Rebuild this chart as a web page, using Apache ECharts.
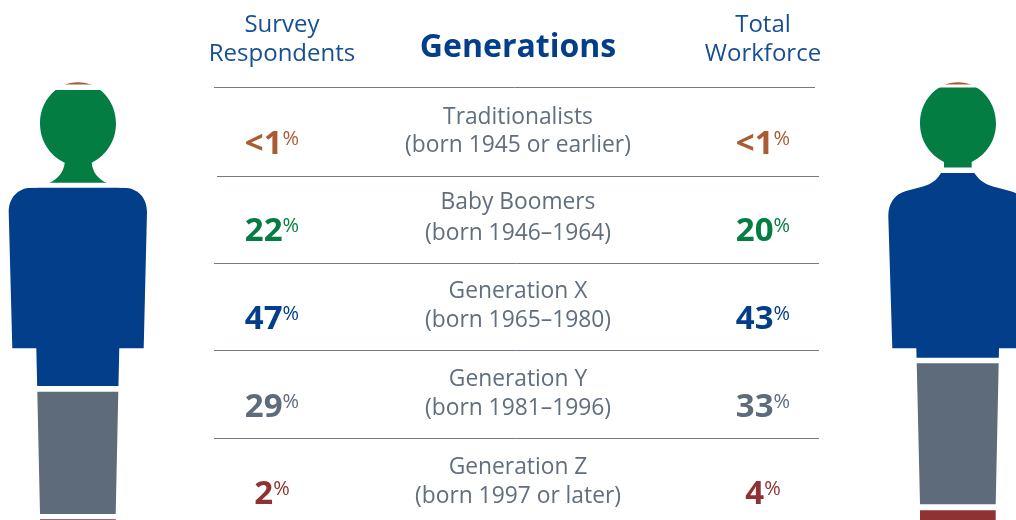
<!DOCTYPE html>
<html>
<head>
<meta charset="utf-8">
<style>
  html, body { margin: 0; padding: 0; background: #fff; }
  #chart { width: 1016px; height: 520px; }
</style>
<script src="https://cdn.jsdelivr.net/npm/echarts@6/dist/echarts.min.js"></script>
</head>
<body>
<div id="chart"></div>
<script>
// 表格内容
const generations = ['Traditionalists', 'Baby Boomers', 'Generation X', 'Generation Y', 'Generation Z'];
const birthYears = ['(born 1945 or earlier)', '(born 1946–1964)', '(born 1965–1980)', '(born 1981–1996)', '(born 1997 or later)'];
const surveyLabels = ['<1', '22', '47', '29', '2'];
const workforceLabels = ['<1', '20', '43', '33', '4'];

// 人形色带的高度（从图上量出）
const surveyBands = [0.7, 22, 47, 29, 2];
const workforceBands = [0.7, 19, 43.8, 33.4, 4];

const bandColors = ['#a95c34', '#047d43', '#023e8a', '#5e6b7a', '#8e3234'];

// 色带之间的白缝（像素）
const surveyGaps = [0, 5.4, 5, 5.6, 5.2];
const workforceGaps = [0, 2.9, 5.3, 5.5, 6.1];

// 人形轮廓，用作裁剪
const surveyShape = 'M40,123.3 C40,100.6 57,82.3 78,82.3 C99,82.3 116,100.6 116,123.3 C116,141 106,156 91.7,162.7 ' +
  'C92.5,172 98,179 107,183 C112,186 118,187.8 124,187.8 C138,188 147,198 147,212 L143.7,348.3 L119.3,348.3 ' +
  'L118.3,392 L115.7,514 L115.7,530 L40,530 L40,514 L37.3,392 L36.3,348.3 L12.3,348.3 L8.7,212 ' +
  'C8.7,198 18,188 31,187.8 C38,187.8 44,186 49,183 C58,179 63.7,172 64.7,162.7 C50,156 40,141 40,123.3 Z';
const workforceShape = 'M920,123.3 C920,100.6 937,82.3 958,82.3 C979,82.3 996,100.6 996,123.3 C996,141 986,155 971.7,162 ' +
  'L971.7,173 L974.3,173 C980,181 985,184 993,186.5 L1010,191 C1020,193 1027,203 1027,216 L1023,348.3 L999,348.3 ' +
  'L998.7,363 L995.7,504 L995.7,530 L920,530 L920,504 L916.7,363 L916.3,348.3 L892.3,348.3 L888.3,216 ' +
  'C888.3,203 895,194 906,191 L923,186.5 C931,184 936,181 941,173 L944,173 L944,162 C930,155 920,141 920,123.3 Z';

const fontFamily = '"Open Sans", sans-serif';
// 纵轴 0..103.9 铺满到画布底部，约 4.22 像素/点
const axisMax = 103.9;

const ruleLines = [[214, 815, 87.5], [217, 819, 176.5], [214, 819, 263.5], [214, 819, 350.5], [214, 819, 438.5]];
const rowLine1 = [118, 203, 292, 380, 468];
const rowLine2 = [146, 234, 321, 409, 497];
const rowValueY = [145, 232, 320, 408, 495];

// 把色带高度累加成 [类目, 起点, 终点, 偏移]
function buildBands(values, gaps) {
    let sum = 0;
    let offset = 0;
    return values.map((v, i) => {
        offset += gaps[i];
        const row = ['person', sum, sum + v, offset];
        sum += v;
        return row;
    });
}

function bandSeries(values, gaps, shape, gridIndex) {
    return {
        type: 'custom',
        xAxisIndex: gridIndex,
        yAxisIndex: gridIndex,
        silent: true,
        data: buildBands(values, gaps),
        encode: { x: 0, y: [1, 2] },
        renderItem: function (params, api) {
            const sys = params.coordSys;
            const top = api.coord(['person', api.value(1)])[1] + api.value(3);
            const bottom = api.coord(['person', api.value(2)])[1] + api.value(3);
            return {
                type: 'rect',
                shape: { x: sys.x, y: top, width: sys.width, height: bottom - top },
                style: { fill: bandColors[params.dataIndex] },
                clipPath: { type: 'path', shape: { pathData: shape } }
            };
        }
    };
}

function textItem(text, x, y, size, color, weight) {
    return {
        type: 'text',
        x: x,
        y: y,
        silent: true,
        style: {
            text: text,
            fill: color,
            font: (weight || 'normal') + ' ' + size + 'px ' + fontFamily,
            align: 'center',
            verticalAlign: 'middle'
        }
    };
}

// 大数字加上标百分号
function valueItem(text, x, y, color) {
    return {
        type: 'text',
        x: x,
        y: y,
        silent: true,
        style: {
            text: '{v|' + text + '}{p|%}',
            align: 'center',
            verticalAlign: 'middle',
            rich: {
                v: { fontFamily: fontFamily, fontSize: 33, fontWeight: 'bold', fill: color, color: color, lineHeight: 36, verticalAlign: 'middle' },
                p: { fontFamily: fontFamily, fontSize: 20, fill: color, color: color, lineHeight: 20, padding: [2, 0, 0, 0], verticalAlign: 'top' }
            }
        }
    };
}

const graphics = [];
const headerColor = '#174f92';
graphics.push(textItem('Survey', 282, 25, 24, headerColor));
graphics.push(textItem('Respondents', 282, 54, 24, headerColor));
graphics.push(textItem('Generations', 518, 48, 32, '#023e8a', 'bold'));
graphics.push(textItem('Total', 763, 25, 24, headerColor));
graphics.push(textItem('Workforce', 763, 54, 24, headerColor));

ruleLines.forEach(r => {
    graphics.push({
        type: 'line',
        silent: true,
        shape: { x1: r[0], y1: r[2], x2: r[1], y2: r[2] },
        style: { stroke: '#6f7a87', lineWidth: 1 }
    });
});

generations.forEach((name, i) => {
    graphics.push(textItem(name, 518, rowLine1[i], 22.8, '#616e7d'));
    graphics.push(textItem(birthYears[i], 518, rowLine2[i], 22.8, '#616e7d'));
    graphics.push(valueItem(surveyLabels[i], 272, rowValueY[i], bandColors[i]));
    graphics.push(valueItem(workforceLabels[i], 763, rowValueY[i], bandColors[i]));
});

const chart = echarts.init(document.getElementById('chart'), null, { renderer: 'canvas' });

chart.setOption({
    animation: false,
    backgroundColor: '#fff',
    textStyle: { fontFamily: fontFamily },
    grid: [
        { left: 0, top: 81.6, width: 160, bottom: 0 },
        { left: 880, top: 81.6, right: 0, bottom: 0 }
    ],
    xAxis: [
        { type: 'category', gridIndex: 0, data: ['person'], show: false },
        { type: 'category', gridIndex: 1, data: ['person'], show: false }
    ],
    yAxis: [
        { type: 'value', gridIndex: 0, inverse: true, min: 0, max: axisMax, show: false },
        { type: 'value', gridIndex: 1, inverse: true, min: 0, max: axisMax, show: false }
    ],
    series: [
        bandSeries(surveyBands, surveyGaps, surveyShape, 0),
        bandSeries(workforceBands, workforceGaps, workforceShape, 1)
    ],
    graphic: { elements: graphics }
});
</script>
</body>
</html>
